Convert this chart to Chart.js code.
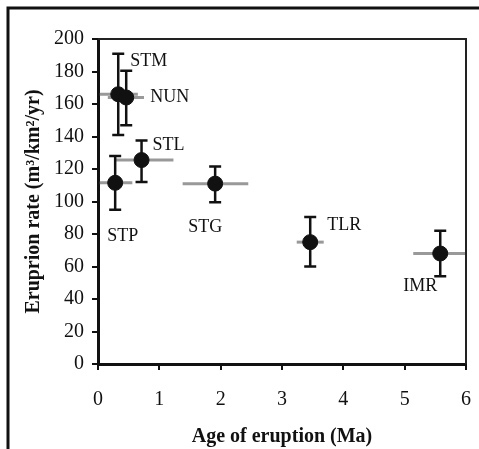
<!DOCTYPE html>
<html>
<head>
<meta charset="utf-8">
<script src="https://cdn.jsdelivr.net/npm/chart.js@4/dist/chart.umd.min.js"></script>
<style>
  html, body { margin: 0; padding: 0; background: #fff; }
  #wrap { position: relative; width: 479px; height: 449px; }
</style>
</head>
<body>
<div id="wrap"><canvas id="chart" width="479" height="449"></canvas></div>
<script>
// values
const names   = ["STM", "NUN", "STL", "STP", "STG", "TLR", "IMR"];
const ages    = [0.33, 0.46, 0.71, 0.28, 1.91, 3.46, 5.58];
const ageMin  = [0.03, 0.16, 0.29, 0.03, 1.38, 3.24, 5.14];
const ageMax  = [0.65, 0.75, 1.23, 0.56, 2.45, 3.68, 6.0];
const rates   = [166, 164, 125.5, 111.5, 111, 75, 68];
const rateMin = [141, 147, 112, 95, 99.5, 60, 54];
const rateMax = [191, 180.5, 137.5, 128, 121.5, 90.5, 82];
const xTicks  = [0, 1, 2, 3, 4, 5, 6];
const yTicks  = [0, 20, 40, 60, 80, 100, 120, 140, 160, 180, 200];

// where each name sits relative to its point (px)
const labelOffsets = [[12, -33], [24, 0], [11, -15], [-8, 53], [-27, 44], [17, -17], [-37, 33]];

const serif = "'Liberation Serif', 'Times New Roman', serif";

const errorBars = {
  id: 'errorBars',
  beforeDatasetsDraw(chart) {
    const ctx = chart.ctx, xs = chart.scales.x, ys = chart.scales.y;
    ctx.save();
    // age ranges (grey)
    ctx.strokeStyle = '#999';
    ctx.lineWidth = 3;
    ages.forEach((a, i) => {
      const y = ys.getPixelForValue(rates[i]);
      ctx.beginPath();
      ctx.moveTo(xs.getPixelForValue(ageMin[i]), y);
      ctx.lineTo(xs.getPixelForValue(ageMax[i]), y);
      ctx.stroke();
    });
    // rate errors (black, capped)
    ctx.strokeStyle = '#111';
    ctx.lineWidth = 2.5;
    ages.forEach((a, i) => {
      const x = xs.getPixelForValue(a);
      const y1 = ys.getPixelForValue(rateMin[i]);
      const y2 = ys.getPixelForValue(rateMax[i]);
      ctx.beginPath();
      ctx.moveTo(x, y1); ctx.lineTo(x, y2);
      ctx.moveTo(x - 6, y1); ctx.lineTo(x + 6, y1);
      ctx.moveTo(x - 6, y2); ctx.lineTo(x + 6, y2);
      ctx.stroke();
    });
    ctx.restore();
  },
  afterDatasetsDraw(chart) {
    const ctx = chart.ctx, xs = chart.scales.x, ys = chart.scales.y;
    ctx.save();
    ctx.font = '18px ' + serif;
    ctx.fillStyle = '#111';
    ctx.textBaseline = 'middle';
    names.forEach((n, i) => {
      const x = xs.getPixelForValue(ages[i]) + labelOffsets[i][0];
      const y = ys.getPixelForValue(rates[i]) + labelOffsets[i][1];
      ctx.fillText(n, x, y);
    });
    ctx.restore();
  },
  afterDraw(chart) {
    const ctx = chart.ctx, a = chart.chartArea;
    ctx.save();
    // top / right edges of the plot box
    ctx.strokeStyle = '#222';
    ctx.lineWidth = 2;
    ctx.beginPath();
    ctx.moveTo(a.left, a.top); ctx.lineTo(a.right, a.top); ctx.lineTo(a.right, a.bottom);
    ctx.stroke();
    // outer frame (top and left only)
    ctx.strokeStyle = '#111';
    ctx.lineWidth = 3;
    ctx.beginPath();
    ctx.moveTo(8, 449); ctx.lineTo(8, 8); ctx.lineTo(479, 8);
    ctx.stroke();
    ctx.restore();
  }
};

new Chart(document.getElementById('chart'), {
  type: 'scatter',
  data: {
    datasets: [{
      data: ages.map((a, i) => ({ x: a, y: rates[i] })),
      backgroundColor: '#111',
      borderColor: '#111',
      pointRadius: 7.5,
      pointHoverRadius: 7.5
    }]
  },
  options: {
    responsive: false,
    animation: false,
    events: [],
    layout: { padding: { left: 0, top: 39, right: 13, bottom: 0 } },
    plugins: { legend: { display: false }, tooltip: { enabled: false } },
    scales: {
      x: {
        type: 'linear', min: 0, max: 6,
        afterBuildTicks: s => { s.ticks = xTicks.map(v => ({ value: v })); },
        afterFit: s => { s.height = 85; s.paddingLeft = 0; s.paddingRight = 0; },
        ticks: { color: '#111', font: { family: serif, size: 20 }, padding: 18, maxRotation: 0 },
        grid: { drawOnChartArea: false, color: '#111', lineWidth: 2, tickLength: 6 },
        border: { color: '#111', width: 3 },
        title: { display: true, text: 'Age of eruption (Ma)', color: '#111',
                 font: { family: serif, size: 20, weight: 'bold' }, padding: { top: 0, bottom: 0 } }
      },
      y: {
        type: 'linear', min: 0, max: 200,
        afterBuildTicks: s => { s.ticks = yTicks.map(v => ({ value: v })); },
        afterFit: s => { s.width = 98; s.paddingTop = 0; s.paddingBottom = 0; },
        ticks: { color: '#111', font: { family: serif, size: 20 }, padding: 8 },
        grid: { drawOnChartArea: false, color: '#111', lineWidth: 2, tickLength: 6 },
        border: { color: '#111', width: 3 },
        title: { display: true, text: 'Eruprion rate (m³/km²/yr)', color: '#111',
                 font: { family: serif, size: 20, weight: 'bold' }, padding: { top: 22, bottom: 0 } }
      }
    }
  },
  plugins: [errorBars]
});
</script>
</body>
</html>
